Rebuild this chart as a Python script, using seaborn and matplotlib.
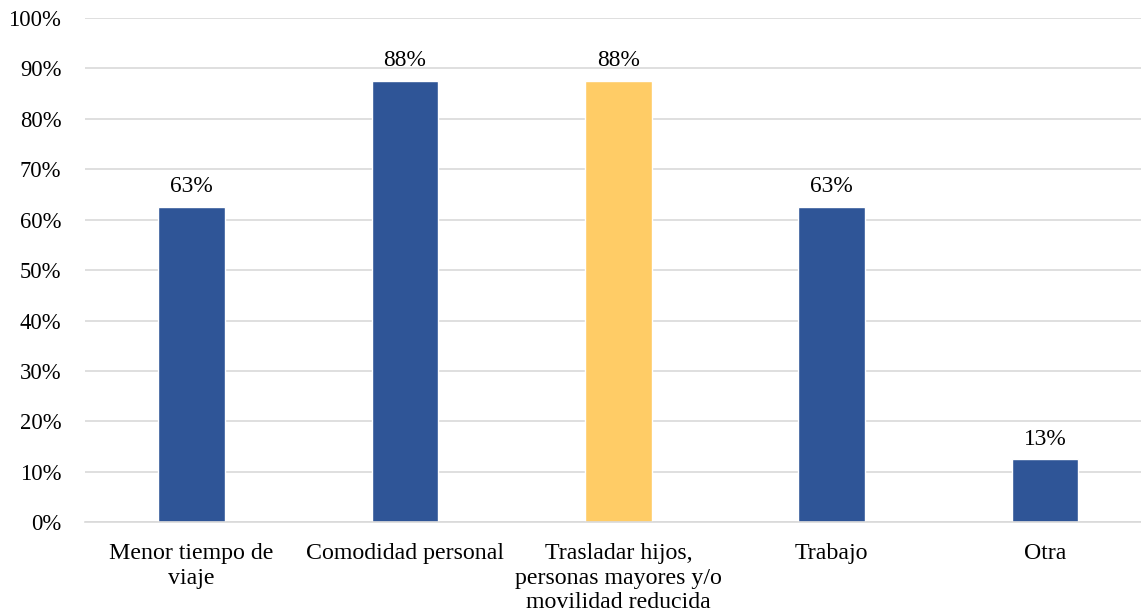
import matplotlib
matplotlib.use("Agg")
import matplotlib.pyplot as plt
import seaborn as sns
import pandas as pd
from matplotlib.ticker import PercentFormatter

categories = ["Menor tiempo de\nviaje", "Comodidad personal",
              "Trasladar hijos,\npersonas mayores y/o\nmovilidad reducida",
              "Trabajo", "Otra"]
values = [0.625, 0.875, 0.875, 0.625, 0.125]
labels = ["63%", "88%", "88%", "63%", "13%"]
bar_colors = ["#2F5597", "#2F5597", "#FFCC66", "#2F5597", "#2F5597"]

sns.set_theme(style="white")
plt.rcParams['font.family'] = ['Liberation Serif', 'DejaVu Serif']

df = pd.DataFrame({"cat": categories, "val": values})

fig = plt.figure(figsize=(11.41, 6.16), dpi=100)
ax = fig.add_axes([85/1141, 1-522.3/616, (1151.7-85)/1141, (522.3-18)/616])

sns.barplot(data=df, x="cat", y="val", hue="cat", palette=bar_colors,
            legend=False, width=0.3125, ax=ax, saturation=1)

ax.set_ylim(0, 1.0)
ax.set_xlim(-0.5, 4.5)
ax.set_yticks([i/10 for i in range(11)])
ax.yaxis.set_major_formatter(PercentFormatter(1.0, decimals=0))
ax.grid(axis="y", color="#D9D9D9", linewidth=1.2)
ax.set_axisbelow(True)
for s in ["top", "right", "left"]:
    ax.spines[s].set_visible(False)
ax.spines["bottom"].set_color("#D9D9D9")
ax.spines["bottom"].set_linewidth(1.2)
ax.tick_params(axis="both", length=0, colors="black")
ax.tick_params(axis="y", pad=17, labelsize=16.3)
ax.tick_params(axis="x", pad=15, labelsize=17.2)
for t in ax.get_xticklabels():
    t.set_linespacing(1.22)
ax.set_xlabel("")
ax.set_ylabel("")

for c, lab in zip(ax.containers, [[l] for l in labels]):
    ax.bar_label(c, labels=lab, padding=7, fontsize=16.8, color="black")

fig.savefig("out.png", dpi=100)
